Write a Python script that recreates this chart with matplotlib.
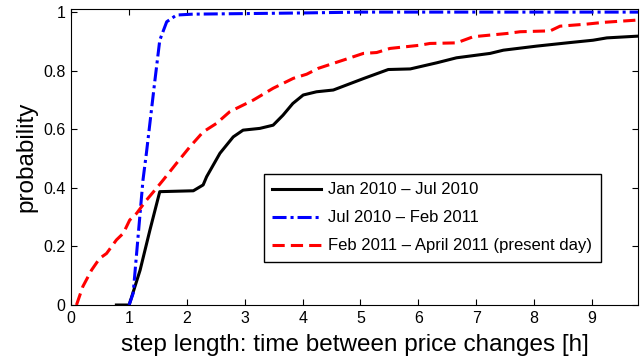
import matplotlib
matplotlib.use("Agg")
import matplotlib.pyplot as plt
import numpy as np

plt.rcParams["font.family"] = ["Liberation Sans", "DejaVu Sans"]

# Jan 2010 - Jul 2010 (black)
x_jan = [0.78, 1.0, 1.19, 1.36, 1.53, 2.11, 2.28, 2.34, 2.57, 2.80, 2.97, 3.26, 3.49, 3.66,
         3.83, 4.01, 4.24, 4.53, 5.05, 5.48, 5.86, 6.32, 6.66, 7.24, 7.47, 8.05, 8.62, 9.02,
         9.26, 9.8]
y_jan = [0.0, 0.0, 0.119, 0.256, 0.387, 0.39, 0.41, 0.438, 0.518, 0.574, 0.597, 0.603, 0.614,
         0.648, 0.688, 0.717, 0.728, 0.734, 0.773, 0.804, 0.806, 0.827, 0.844, 0.859, 0.87,
         0.884, 0.896, 0.904, 0.912, 0.918]

# Jul 2010 - Feb 2011 (blue)
x_jul = [1.0, 1.07, 1.24, 1.30, 1.44, 1.53, 1.65, 1.82, 2.1, 3.95, 5.0, 9.8]
y_jul = [0.0, 0.04, 0.427, 0.52, 0.757, 0.904, 0.967, 0.99, 0.993, 0.997, 1.0, 1.0]

# Feb 2011 - April 2011 (red)
x_feb = [0.09, 0.20, 0.35, 0.49, 0.61, 0.78, 0.90, 1.01, 1.13, 1.30, 1.47, 1.59, 1.82, 2.05,
         2.28, 2.51, 2.74, 3.15, 3.49, 3.84, 4.07, 4.27, 4.70, 5.05, 5.28, 5.51, 6.03, 6.20,
         6.66, 6.95, 7.53, 7.76, 8.28, 8.45, 8.91, 9.2, 9.8]
y_feb = [0.0, 0.063, 0.119, 0.159, 0.176, 0.222, 0.245, 0.29, 0.313, 0.358, 0.398, 0.427,
         0.484, 0.540, 0.591, 0.620, 0.660, 0.70, 0.74, 0.774, 0.788, 0.808, 0.836, 0.859,
         0.862, 0.876, 0.887, 0.893, 0.895, 0.916, 0.927, 0.933, 0.936, 0.952, 0.959, 0.965,
         0.973]

labels = ["Jan 2010 \u2013 Jul 2010", "Jul 2010 \u2013 Feb 2011",
          "Feb 2011 \u2013 April 2011 (present day)"]

fig = plt.figure(figsize=(6.42, 3.58), dpi=100)
ax = fig.add_axes([0.111, 0.148, 0.883, 0.828])

ax.plot(x_jan, y_jan, color="black", lw=2.2, label=labels[0])
ax.plot(x_jul, y_jul, color="blue", lw=2.2, linestyle=(0, (4.6, 1.3, 1, 1.3)), label=labels[1])
ax.plot(x_feb, y_feb, color="red", lw=2.2, linestyle=(0, (4, 2)), label=labels[2])

ax.set_xlim(0, 9.8)
ax.set_ylim(0, 1.012)
ax.set_xticks(range(0, 10))
ax.set_yticks([0, 0.2, 0.4, 0.6, 0.8, 1])
ax.set_yticklabels(["0", "0.2", "0.4", "0.6", "0.8", "1"])
ax.tick_params(direction="in", top=True, right=True, length=4, labelsize=11.5, pad=4)
ax.set_xlabel("step length: time between price changes [h]", fontsize=17.5, labelpad=6)
ax.set_ylabel("probability", fontsize=17.5, labelpad=4)

leg = ax.legend(loc="lower left", bbox_to_anchor=(0.34, 0.146), fontsize=12,
                handlelength=2.9, handletextpad=0.45, borderpad=0.5, labelspacing=0.78,
                fancybox=False, framealpha=1, borderaxespad=0)
leg.get_frame().set_edgecolor("black")
leg.get_frame().set_linewidth(1.0)

fig.savefig("out.png", dpi=100)
